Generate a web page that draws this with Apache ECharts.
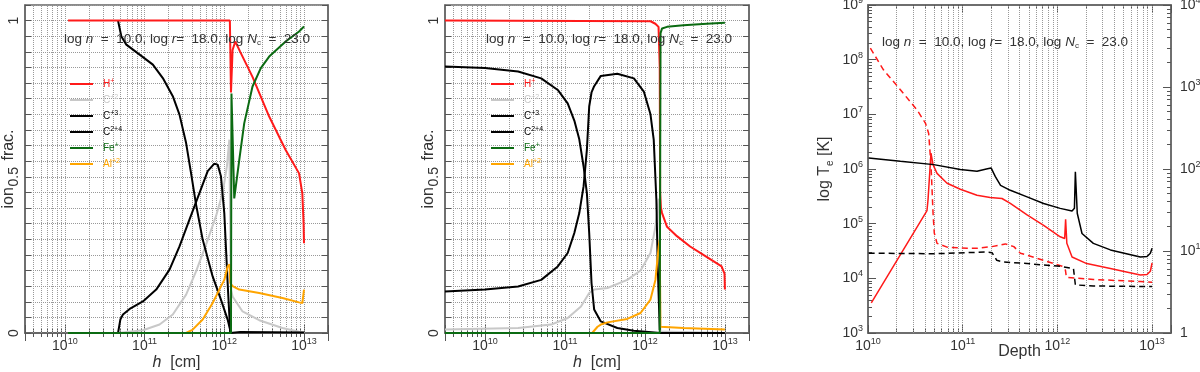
<!DOCTYPE html>
<html>
<head>
<meta charset="utf-8">
<script src="https://cdn.jsdelivr.net/npm/echarts@6/dist/echarts.min.js"></script>
<style>
  html, body { margin: 0; padding: 0; background: #fff; }
  #chart { width: 1200px; height: 372px; }
</style>
</head>
<body>
<div id="chart"></div>
<script>
// depth is stored as log10(h [cm]); panels 1-2 values are ion fractions,
// panel 3 values are log10 of the left-axis quantity

// panel 1
const p1H = [[10.04,1.0],[12.07,1.0],[12.084,0.77],[12.104,0.906],[12.138,0.933],[12.2,0.9],[12.354,0.82],[12.563,0.693],[12.77,0.586],[12.938,0.511],[12.979,0.447],[12.995,0.35],[13.0,0.287]];
const p1C2 = [[10.667,0],[10.979,0.009],[11.188,0.027],[11.354,0.059],[11.521,0.123],[11.646,0.197],[11.771,0.283],[11.896,0.374],[11.979,0.448],[12.033,0.534],[12.063,0.619],[12.083,0.139],[12.104,0.117],[12.229,0.069],[12.438,0.041],[12.729,0.016],[12.938,0.004],[13.0,0.002]];
const p1C3 = [[10.667,1.0],[10.708,0.95],[10.771,0.923],[10.938,0.891],[11.104,0.859],[11.229,0.816],[11.354,0.758],[11.438,0.699],[11.521,0.608],[11.583,0.512],[11.646,0.411],[11.729,0.299],[11.854,0.181],[11.958,0.107],[12.042,0.043],[12.083,0]];
const p1C4 = [[10.667,0],[10.696,0.043],[10.729,0.059],[10.813,0.077],[10.979,0.101],[11.146,0.139],[11.313,0.203],[11.438,0.277],[11.563,0.363],[11.688,0.448],[11.792,0.518],[11.875,0.542],[11.917,0.539],[11.958,0.502],[12.0,0.384],[12.042,0.16],[12.075,0],[12.2,0.003],[13.0,0.002]];
const p1Fe = [[10.04,0],[12.084,0],[12.09,0.767],[12.125,0.431],[12.188,0.554],[12.25,0.671],[12.354,0.789],[12.458,0.848],[12.563,0.885],[12.77,0.933],[12.938,0.965],[13.0,0.981]];
const p1Al = [[10.04,0],[11.52,0],[11.6,0.01],[11.729,0.043],[11.854,0.096],[11.938,0.139],[12.0,0.17],[12.042,0.213],[12.065,0.22],[12.075,0.16],[12.104,0.15],[12.188,0.139],[12.438,0.128],[12.729,0.112],[12.938,0.098],[12.979,0.096],[13.0,0.139]];

// panel 2
const p2H = [[9.5,1.0],[12.07,0.998],[12.13,0.99],[12.17,0.98],[12.185,0.85],[12.19,0.45],[12.2,0.4],[12.214,0.384],[12.276,0.34],[12.4,0.31],[12.565,0.277],[12.731,0.25],[12.855,0.23],[12.958,0.213],[12.995,0.19],[13.0,0.139]];
const p2C2 = [[9.5,0.011],[10.414,0.016],[10.827,0.027],[11.034,0.048],[11.2,0.085],[11.303,0.128],[11.365,0.139],[11.531,0.144],[11.779,0.17],[11.945,0.2],[12.069,0.256],[12.131,0.34],[12.172,0.43],[12.185,0.3],[12.193,0.005],[13.0,0.0]];
const p2C3 = [[9.5,0.853],[10.0,0.848],[10.414,0.837],[10.703,0.815],[10.91,0.778],[11.034,0.735],[11.117,0.68],[11.179,0.62],[11.233,0.533],[11.274,0.448],[11.303,0.32],[11.332,0.16],[11.365,0.075],[11.448,0.037],[11.655,0.016],[11.862,0.007],[12.193,0],[13.0,0]];
const p2C4 = [[9.5,0.133],[10.0,0.139],[10.414,0.149],[10.703,0.17],[10.91,0.213],[11.034,0.256],[11.117,0.32],[11.179,0.384],[11.233,0.47],[11.274,0.586],[11.303,0.725],[11.332,0.77],[11.365,0.79],[11.448,0.823],[11.655,0.83],[11.862,0.815],[11.986,0.773],[12.069,0.7],[12.11,0.618],[12.143,0.426],[12.16,0.213],[12.185,0.01]];
const p2Fe = [[9.5,0],[12.185,0],[12.195,0.96],[12.214,0.975],[12.276,0.98],[12.482,0.985],[12.772,0.99],[13.0,0.993]];
const p2Al = [[9.5,0],[11.34,0],[11.407,0.02],[11.448,0.027],[11.531,0.034],[11.779,0.045],[11.945,0.064],[12.069,0.107],[12.131,0.17],[12.172,0.277],[12.185,0.3],[12.193,0.02],[12.214,0.019],[12.482,0.016],[13.0,0.011]];

// panel 3
const p3RedDash = [[10.025,8.21],[10.165,7.81],[10.342,7.45],[10.518,7.08],[10.606,6.84],[10.641,6.65],[10.666,6.05],[10.687,5.19],[10.7,4.83],[10.729,4.64],[10.835,4.57],[11.046,4.55],[11.151,4.55],[11.31,4.58],[11.45,4.63],[11.54,4.58],[11.61,4.46],[11.855,4.33],[12.05,4.22],[12.085,4.15],[12.095,4.02],[12.38,3.98],[12.876,3.94],[13.0,3.93]];
const p3RedSolid = [[10.035,3.55],[10.623,5.24],[10.634,5.44],[10.665,6.29],[10.687,6.08],[10.729,5.92],[10.835,5.74],[10.975,5.63],[11.151,5.52],[11.29,5.48],[11.415,5.46],[11.503,5.37],[11.68,5.16],[11.855,4.97],[12.03,4.76],[12.077,4.73],[12.087,5.08],[12.1,4.64],[12.155,4.39],[12.31,4.27],[12.56,4.18],[12.876,4.06],[12.947,4.07],[12.982,4.13],[13.0,4.28]];
const p3BlackSolid = [[10.007,6.2],[10.342,6.14],[10.694,6.08],[10.975,5.99],[11.151,5.96],[11.25,6.0],[11.3,6.02],[11.345,5.86],[11.4,5.7],[11.503,5.61],[11.68,5.49],[11.855,5.37],[12.03,5.28],[12.155,5.23],[12.18,5.28],[12.19,5.95],[12.21,5.19],[12.26,4.82],[12.38,4.64],[12.56,4.52],[12.876,4.39],[12.947,4.4],[12.982,4.46],[13.0,4.55]];
const p3BlackDash = [[10.007,4.46],[10.694,4.45],[11.239,4.48],[11.31,4.47],[11.36,4.33],[11.43,4.3],[11.68,4.27],[12.03,4.22],[12.17,4.18],[12.19,3.88],[12.38,3.86],[13.0,3.85]];

const legendNames = ['H+', 'C+2', 'C+3', 'C2+4', 'Fe+', 'Al+2'];
const legendColors = ['#ff1a1a', '#c8c8c8', '#000000', '#000000', '#0b6b12', '#ffa500'];

const FONT = 'Liberation Sans';
const TXT = '#333';
const xMin12 = Math.pow(10, 9.5), xMax12 = 2e13;
const xMin3 = 1e10, xMax3 = Math.pow(10, 13.2);

// dotted vertical grid at 1..9 x 10^n
function gridPositions(lo, hi) {
  const out = [];
  for (let n = 9; n <= 13; n++) {
    for (let m = 1; m <= 9; m++) {
      const v = m * Math.pow(10, n);
      if (v > lo * 1.001 && v < hi * 0.999) out.push(v);
    }
  }
  return out;
}

function powLabel(v) {
  const l = Math.log10(v);
  const e = Math.round(l);
  if (Math.abs(l - e) > 1e-6) return '';
  return e === 0 ? '{b|1}' : '{b|10}{s|' + e + '}';
}

const powRich = {
  b: { fontSize: 14, lineHeight: 18, fontFamily: FONT, color: TXT },
  s: { fontSize: 9, lineHeight: 18, verticalAlign: 'top', fontFamily: FONT, color: TXT }
};

const axLine = { show: true, lineStyle: { color: '#666', width: 1.5 } };
const logMinor = { show: true, splitNumber: 9, length: 4, lineStyle: { color: '#555' } };

function xAxes(gi, min, max, name, nameGap, nameRich) {
  return [{
    gridIndex: gi, type: 'log', logBase: 10, min: min, max: max,
    axisLine: axLine,
    axisTick: { inside: true, length: 8, lineStyle: { color: '#555' } },
    minorTick: logMinor,
    axisLabel: { formatter: powLabel, rich: powRich, margin: 4 },
    splitLine: { show: false },
    name: name, nameLocation: 'middle', nameGap: nameGap, nameMoveOverlap: false,
    nameTextStyle: { fontFamily: FONT, fontSize: 16, color: TXT, rich: nameRich }
  }, {
    gridIndex: gi, type: 'log', logBase: 10, min: min, max: max, position: 'top',
    axisLine: axLine,
    axisTick: { inside: true, length: 8, lineStyle: { color: '#555' } },
    minorTick: logMinor,
    axisLabel: { show: false },
    splitLine: { show: false }
  }];
}

function fracAxes(gi) {
  return [{
    gridIndex: gi, type: 'value', min: 0, max: 1.05, interval: 0.05,
    axisLine: axLine,
    axisTick: { inside: true, length: 6, lineStyle: { color: '#555' } },
    axisLabel: {
      rotate: 90, margin: 4, fontFamily: FONT, fontSize: 14, color: TXT,
      formatter: v => (Math.abs(v) < 1e-9 ? '0' : Math.abs(v - 0.5) < 1e-9 ? '0.5' : Math.abs(v - 1) < 1e-9 ? '1' : '')
    },
    splitLine: { show: true, lineStyle: { type: 'dotted', color: '#999', width: 1 } },
    name: 'ion      frac.', nameLocation: 'middle', nameGap: 8, nameMoveOverlap: false,
    nameTextStyle: { fontFamily: FONT, fontSize: 16, color: TXT }
  }, {
    gridIndex: gi, type: 'value', min: 0, max: 1.05, interval: 0.05, position: 'right',
    axisLine: axLine,
    axisTick: { inside: true, length: 6, lineStyle: { color: '#555' } },
    axisLabel: { show: false },
    splitLine: { show: false }
  }];
}

function vGrid(gi, lo, hi) {
  return {
    type: 'line', name: 'grid' + gi, xAxisIndex: gi * 2, yAxisIndex: gi * 2,
    data: [], silent: true, z: 1,
    markLine: {
      z: 1, silent: true, animation: false, symbol: ['none', 'none'],
      label: { show: false },
      lineStyle: { type: 'dotted', color: '#999', width: 1 },
      data: gridPositions(lo, hi).map(v => ({ xAxis: v }))
    }
  };
}

function line(gi, name, pts, color, opts) {
  opts = opts || {};
  return {
    type: 'line', name: name, xAxisIndex: gi * 2, yAxisIndex: gi * 2,
    data: pts.map(p => [Math.pow(10, p[0]), opts.logY ? Math.pow(10, p[1]) : p[1]]),
    symbol: 'none', showSymbol: false, z: 3, animation: false,
    color: color,
    lineStyle: { color: color, width: opts.width || 2, type: opts.dash ? [6, 4] : 'solid' },
    itemStyle: { color: color }
  };
}

function legendFor(left) {
  return {
    orient: 'vertical', left: left, top: 73, itemWidth: 23, itemHeight: 2, itemGap: 4,
    icon: 'rect', selectedMode: false,
    data: legendNames.map((n, i) => ({ name: n, textStyle: { color: legendColors[i] } })),
    formatter: n => {
      const m = n.match(/^([A-Za-z]+)(.*)$/);
      return '{e|' + m[1] + '}{p|' + m[2] + '}';
    },
    textStyle: {
      fontFamily: FONT, fontSize: 10, lineHeight: 12, padding: [0, 0, 0, 5],
      rich: {
        e: { fontSize: 10, lineHeight: 12, fontFamily: FONT },
        p: { fontSize: 7, lineHeight: 12, verticalAlign: 'top', fontFamily: FONT }
      }
    }
  };
}

const annoText = '{t|log }{i|n}{t|  =  10.0, log }{i|r}{t|=  18.0, log }{i|N}{sub|c}{t|  =  23.0}';
const annoRich = {
  t: { fontSize: 13.5, lineHeight: 16, fontFamily: FONT, color: TXT },
  i: { fontSize: 13.5, lineHeight: 16, fontFamily: FONT, fontStyle: 'italic', color: TXT },
  sub: { fontSize: 8, lineHeight: 16, verticalAlign: 'bottom', fontFamily: FONT, color: TXT }
};
function anno(left, top) {
  return { left: left, top: top, padding: 0, text: annoText, textStyle: { fontWeight: 'normal', rich: annoRich } };
}

const hRich = {
  i: { fontStyle: 'italic', fontSize: 16, fontFamily: FONT, color: TXT },
  n: { fontSize: 16, fontFamily: FONT, color: TXT }
};

function panelGrid(left, width) {
  return {
    left: left, top: 5, width: width, height: 328, outerBoundsMode: 'none',
    show: true, borderColor: '#666', borderWidth: 1.5
  };
}

const chart = echarts.init(document.getElementById('chart'), null, { renderer: 'canvas' });

const option = {
  backgroundColor: '#ffffff',
  animation: false,
  textStyle: { fontFamily: FONT },
  title: [anno(64, 31), anno(486, 31), anno(882, 34)],
  legend: [legendFor(65), legendFor(486)],
  grid: [panelGrid(25, 303), panelGrid(445, 304), panelGrid(868, 303)],
  xAxis: [
    ...xAxes(0, xMin12, xMax12, '{i|h}{n|  [cm]}', 22, hRich),
    ...xAxes(1, xMin12, xMax12, '{i|h}{n|  [cm]}', 22, hRich),
    ...xAxes(2, xMin3, xMax3, 'Depth', 11, null)
  ],
  yAxis: [
    ...fracAxes(0),
    ...fracAxes(1),
    {
      gridIndex: 2, type: 'log', logBase: 10, min: 1e3, max: 1e9,
      axisLine: axLine,
      axisTick: { inside: true, length: 8, lineStyle: { color: '#555' } },
      minorTick: logMinor,
      axisLabel: { formatter: powLabel, rich: powRich, margin: 5 },
      splitLine: { show: false },
      name: '{n|log T}{sub|e}{n| [K]}', nameLocation: 'middle', nameGap: 33, nameMoveOverlap: false,
      nameTextStyle: {
        rich: {
          n: { fontSize: 16, lineHeight: 20, fontFamily: FONT, color: TXT },
          sub: { fontSize: 10, lineHeight: 20, verticalAlign: 'bottom', fontFamily: FONT, color: TXT }
        }
      }
    },
    {
      gridIndex: 2, type: 'log', logBase: 10, min: 1, max: 1e4, position: 'right',
      axisLine: axLine,
      axisTick: { inside: true, length: 8, lineStyle: { color: '#555' } },
      minorTick: logMinor,
      axisLabel: { formatter: powLabel, rich: powRich, margin: 9 },
      splitLine: { show: false }
    }
  ],
  series: [
    vGrid(0, xMin12, xMax12),
    vGrid(1, xMin12, xMax12),
    vGrid(2, xMin3, xMax3),

    line(0, 'C+2', p1C2, legendColors[1]),
    line(0, 'C+3', p1C3, legendColors[2]),
    line(0, 'C2+4', p1C4, legendColors[3]),
    line(0, 'Al+2', p1Al, legendColors[5]),
    line(0, 'H+', p1H, legendColors[0]),
    line(0, 'Fe+', p1Fe, legendColors[4]),

    line(1, 'C+2', p2C2, legendColors[1]),
    line(1, 'C+3', p2C3, legendColors[2]),
    line(1, 'C2+4', p2C4, legendColors[3]),
    line(1, 'Al+2', p2Al, legendColors[5]),
    line(1, 'H+', p2H, legendColors[0]),
    line(1, 'Fe+', p2Fe, legendColors[4]),

    line(2, 'Te dashed', p3RedDash, '#ff1a1a', { logY: true, width: 1.5, dash: true }),
    line(2, 'Te', p3RedSolid, '#ff1a1a', { logY: true, width: 1.5 }),
    line(2, 'ne', p3BlackSolid, '#000000', { logY: true, width: 1.5 }),
    line(2, 'ne dashed', p3BlackDash, '#000000', { logY: true, width: 1.5, dash: true })
  ]
};

chart.setOption(option);
</script>
</body>
</html>
